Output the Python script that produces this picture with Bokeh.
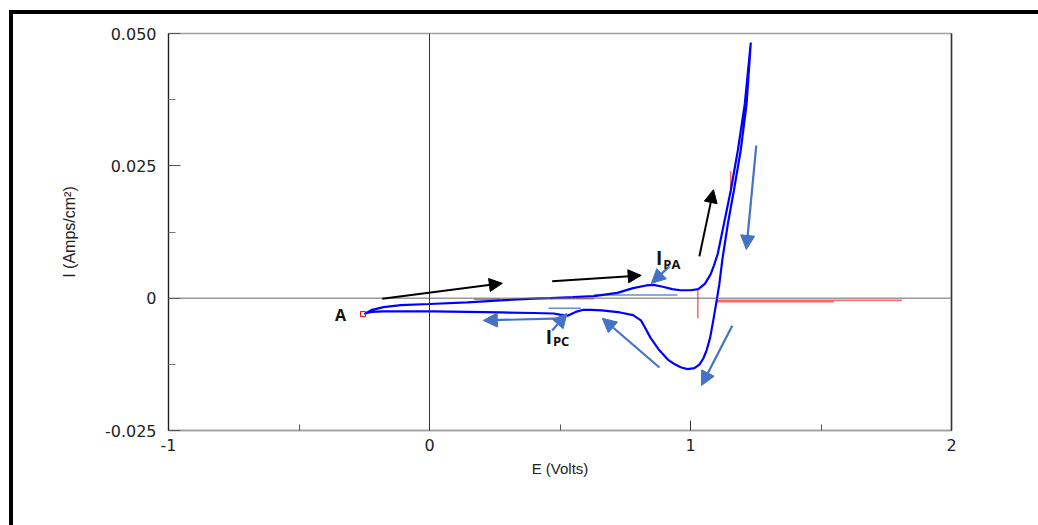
from bokeh.plotting import figure
from bokeh.models import (FixedTicker, Span, Arrow, NormalHead, Label,
                          LinearAxis, Range1d)
from bokeh.embed import file_html
from bokeh.resources import INLINE

# ---- data ----
E_fwd = [-0.25, -0.235, -0.22, -0.176, -0.11, 0.0, 0.145, 0.272, 0.40, 0.464, 0.55, 0.63,
         0.72, 0.78, 0.83, 0.858, 0.89, 0.93, 0.962, 1.0, 1.03, 1.055, 1.077, 1.09, 1.104,
         1.128, 1.154, 1.181, 1.208, 1.231]
I_fwd = [-0.0030, -0.0026, -0.0022, -0.0017, -0.0013, -0.0011, -0.0008, -0.0004, -0.0001,
         0.0000, 0.0002, 0.0004, 0.0010, 0.0019, 0.0024, 0.0025, 0.0022, 0.0017, 0.0015,
         0.0015, 0.0017, 0.0027, 0.0045, 0.0062, 0.0083, 0.0140, 0.0203, 0.0278, 0.0367,
         0.0483]

E_rev = [1.231, 1.215, 1.192, 1.166, 1.143, 1.123, 1.110, 1.100, 1.088, 1.075, 1.062, 1.05,
         1.035, 1.015, 0.989, 0.965, 0.94, 0.913, 0.88, 0.847, 0.825, 0.81, 0.78, 0.73, 0.66,
         0.62, 0.59, 0.56, 0.529, 0.50, 0.476, 0.40, 0.272, 0.015, -0.176, -0.22, -0.24,
         -0.25]
I_rev = [0.0483, 0.0367, 0.0278, 0.0203, 0.0140, 0.0076, 0.0025, -0.0005, -0.0040, -0.0075,
         -0.0098, -0.0113, -0.0125, -0.0132, -0.0134, -0.0131, -0.0125, -0.0116, -0.0098,
         -0.0075, -0.0055, -0.0042, -0.0032, -0.0027, -0.0023, -0.0022, -0.0022, -0.0026,
         -0.0033, -0.0031, -0.0029, -0.0028, -0.0027, -0.0025, -0.0025, -0.0026, -0.0028,
         -0.0030]

# red artefact segments (E pairs, I pairs)
red_E = [[1.10, 1.81], [1.10, 1.55], [1.028, 1.028], [1.154, 1.154], [0.17, 0.27],
         [0.46, 0.63]]
red_I = [[-0.0004, -0.0004], [-0.0007, -0.0007], [0.0015, -0.0038], [0.0240, 0.0197],
         [-0.0002, -0.0002], [-0.0001, -0.0001]]

# light blue baselines
base_E = [[0.63, 0.95], [0.456, 0.58]]
base_I = [[0.0006, 0.0006], [-0.0019, -0.0019]]

# annotation arrows: (E_tail, I_tail, E_tip, I_tip)
black_arrows = [(-0.181, -0.0001, 0.279, 0.0028),
                (0.470, 0.0032, 0.811, 0.0043),
                (1.034, 0.0079, 1.088, 0.0205)]
blue_arrows = [(1.252, 0.0288, 1.214, 0.0092),
               (0.919, 0.0060, 0.850, 0.0028),
               (1.160, -0.0052, 1.042, -0.0165),
               (0.881, -0.0131, 0.662, -0.0038),
               (0.512, -0.0038, 0.206, -0.0042),
               (0.470, -0.0061, 0.527, -0.0029)]

x_ticks = [-1, 0, 1, 2]
x_minor = [-0.5, 0.5, 1.5]
y_ticks = [-0.025, 0, 0.025, 0.05]
y_minor = [-0.0125, 0.0125, 0.0375]
y_labels = {-0.025: "-0.025", 0: "0", 0.025: "0.025", 0.05: "0.050"}
x_labels = {-1: "-1", 0: "0", 1: "1", 2: "2"}

TICK_FONT = "DejaVu Sans"
FONT = "Liberation Sans"
BLUE = "#4472C4"

# outer black frame painted as the page element's background (left and top strips)
frame_bg = ("linear-gradient(black, black) 9px 10px / 4px 100% no-repeat, "
            "linear-gradient(black, black) 9px 10px / 100% 4px no-repeat, white")

p = figure(width=1038, height=525, output_backend="svg", toolbar_location=None,
           x_range=Range1d(-1, 2), y_range=Range1d(-0.025, 0.05),
           min_border_left=168, min_border_right=87, min_border_top=33,
           min_border_bottom=95,
           styles={"background": frame_bg})
p.background_fill_color = "white"
p.border_fill_color = None
p.grid.visible = False
p.outline_line_color = "#a0a0a0"
p.outline_line_width = 1.5

for ax, ticks, minor, labels in ((p.xaxis[0], x_ticks, x_minor, x_labels),
                                 (p.yaxis[0], y_ticks, y_minor, y_labels)):
    ax.ticker = FixedTicker(ticks=ticks, minor_ticks=minor)
    ax.major_label_overrides = labels
    ax.major_tick_out = 0
    ax.minor_tick_out = 0
    ax.major_label_text_font = TICK_FONT
    ax.major_label_text_font_size = "16px"
    ax.major_label_text_color = "#222222"
    ax.axis_label_text_font = FONT
    ax.axis_label_text_font_style = "normal"
    ax.axis_label_text_color = "#222222"

p.xaxis.axis_label = "E (Volts)"
p.xaxis.axis_label_text_font_size = "15px"
p.xaxis.major_tick_in = 10
p.xaxis.minor_tick_in = 6
p.xaxis.axis_line_color = "#a0a0a0"
p.xaxis.axis_line_width = 1.5
p.xaxis.major_tick_line_color = "#333333"
p.xaxis.minor_tick_line_color = "#555555"
p.xaxis.major_label_standoff = 8
p.xaxis.axis_label_standoff = 6

p.yaxis.axis_label = "I (Amps/cm²)"
p.yaxis.axis_label_text_font_size = "16px"
p.yaxis.major_tick_in = 12
p.yaxis.minor_tick_in = 7
p.yaxis.axis_line_color = "#222222"
p.yaxis.axis_line_width = 1.2
p.yaxis.major_tick_line_color = "#555555"
p.yaxis.minor_tick_line_color = "#777777"
p.yaxis.major_label_standoff = 12
p.yaxis.axis_label_standoff = 24

right_ax = LinearAxis(ticker=FixedTicker(ticks=[]), major_label_text_font_size="0px",
                      axis_line_color="#333333", axis_line_width=1.5,
                      major_tick_line_color=None, minor_tick_line_color=None)
p.add_layout(right_ax, "right")

# zero lines
p.add_layout(Span(location=0, dimension="height", line_color="#333333", line_width=1))
p.add_layout(Span(location=0, dimension="width", line_color="#666666", line_width=1))

# red artefacts and baselines
p.multi_line(red_E, red_I, line_color="#FF0000", line_width=1.5, line_alpha=0.6)
p.multi_line(base_E, base_I, line_color=BLUE, line_width=1.5, line_alpha=0.8)

# CV curve
p.line(E_fwd + E_rev[1:], I_fwd + I_rev[1:], line_color="#0000FF", line_width=2.2)
p.scatter([-0.255], [-0.0030], marker="square", size=5, fill_alpha=0,
          line_color="#FF0000", line_width=1)

for (x0, y0, x1, y1) in black_arrows:
    p.add_layout(Arrow(x_start=x0, y_start=y0, x_end=x1, y_end=y1, line_color="black",
                       line_width=2,
                       end=NormalHead(size=13, fill_color="black", line_color="black")))
for (x0, y0, x1, y1) in blue_arrows:
    p.add_layout(Arrow(x_start=x0, y_start=y0, x_end=x1, y_end=y1, line_color=BLUE,
                       line_width=2.2,
                       end=NormalHead(size=14, fill_color=BLUE, line_color=BLUE)))

LFONT = "Open Sans"
p.add_layout(Label(x=-0.341, y=-0.0031, text="A", text_font=LFONT, text_font_style="bold",
                   text_font_size="16px", text_align="center", text_baseline="middle",
                   text_color="#111111"))
p.add_layout(Label(x=0.868, y=0.0075, text="I", text_font=LFONT, text_font_style="bold",
                   text_font_size="19px", text_align="left", text_baseline="middle",
                   text_color="#111111"))
p.add_layout(Label(x=0.896, y=0.0065, text="PA", text_font=LFONT, text_font_style="bold",
                   text_font_size="13px", text_align="left", text_baseline="middle",
                   text_color="#111111"))
p.add_layout(Label(x=0.445, y=-0.0073, text="I", text_font=LFONT, text_font_style="bold",
                   text_font_size="19px", text_align="left", text_baseline="middle",
                   text_color="#111111"))
p.add_layout(Label(x=0.473, y=-0.0081, text="PC", text_font=LFONT, text_font_style="bold",
                   text_font_size="13px", text_align="left", text_baseline="middle",
                   text_color="#111111"))

open("out.html", "w").write(file_html(p, INLINE))
